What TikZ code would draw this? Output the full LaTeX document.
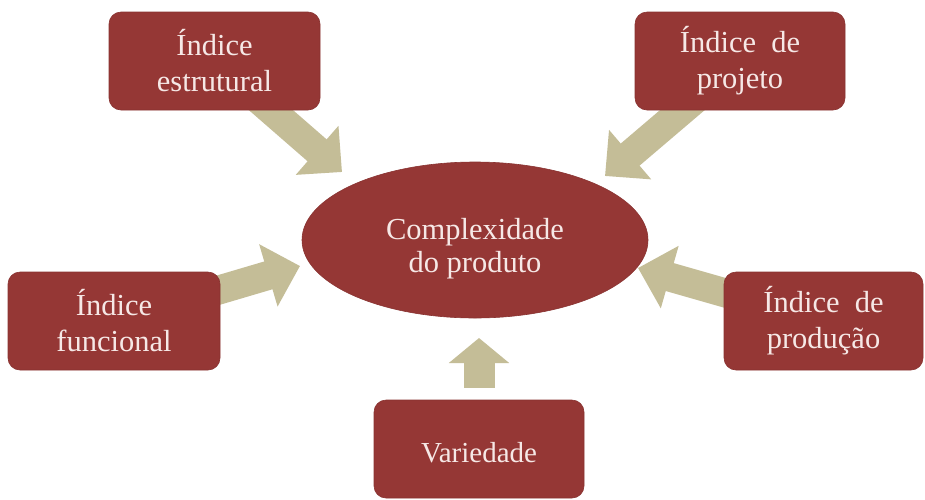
\documentclass[tikz,border=0pt]{standalone}
\usepackage{fontspec}
\setmainfont{Liberation Serif}
\usetikzlibrary{arrows.meta,backgrounds,shapes.geometric}
\definecolor{boxred}{HTML}{953735}
\definecolor{txtpink}{HTML}{F6E8E6}
\definecolor{khaki}{HTML}{C4BD97}
\begin{document}
\begin{tikzpicture}[x=1pt,y=-1pt,
  box/.style={draw=boxred!92!black, line width=0.6pt, fill=boxred, rounded corners=12pt,
    minimum height=98pt, inner sep=0pt, text=txtpink, align=center,
    font=\fontsize{30.5}{36}\selectfont},
  ell/.style={ellipse, draw=boxred!92!black, line width=0.6pt, fill=boxred, inner sep=0pt,
    minimum width=346pt, minimum height=156pt},
  lbl/.style={inner sep=0pt, text=txtpink, align=center},
  flow/.style={draw=khaki, line width=29pt, -{Triangle[width=63pt,length=33pt]}},
  flowup/.style={draw=khaki, line width=31pt, -{Triangle[width=59pt,length=25pt]}}]
\useasboundingbox (0,0) rectangle (925,499);
\node[ell] (cplx) at (475,240) {};
\node[lbl, font=\fontsize{30.5}{33}\selectfont] (cplxtxt) at ([yshift=-9pt]cplx.center) {Complexidade\\do produto};
\node[box, minimum width=211pt] (estr) at (214.5,61) {Índice\\estrutural};
\node[box, minimum width=210pt] (proj) at (740,61) {Índice\ \ de\\projeto};
\node[box, minimum width=212pt] (func) at (114,321) {Índice\\funcional};
\node[box, minimum width=199pt] (prod) at (823.5,321) {Índice\ \ de\\produção};
\node[box, minimum width=210pt] (var) at (479,449) {};
\node[lbl, font=\fontsize{29}{36}\selectfont] (vartxt) at ([yshift=-4pt]var.center) {Variedade};
\coordinate (tTL) at (342,172);
\coordinate (tTR) at (605,176);
\coordinate (tL) at (300,266);
\coordinate (tR) at (638,268);
\coordinate (tB) at (479,338);
\begin{scope}[on background layer]
\fill[white] (0,0) rectangle (925,499);
\draw[flow] (estr.center) -- (tTL);
\draw[flow] (proj.center) -- (tTR);
\draw[flow] (func.center) -- (tL);
\draw[flow] (prod.center) -- (tR);
\draw[flowup, shorten <=12pt] (var.north) -- (tB);
\end{scope}
\end{tikzpicture}
\end{document}
